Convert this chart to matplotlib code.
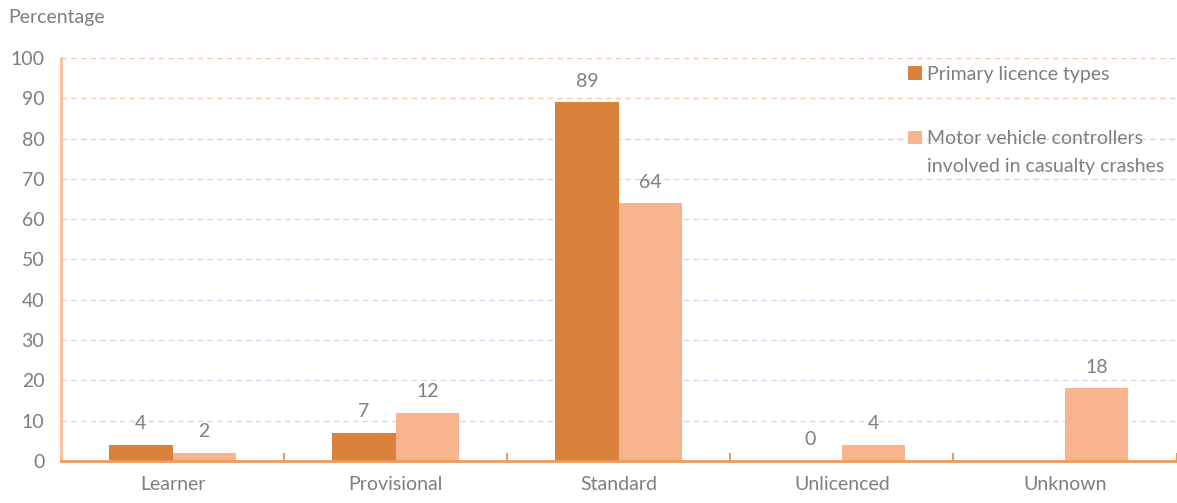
import numpy as np
import matplotlib.pyplot as plt
from matplotlib.colors import to_rgb
from matplotlib.patches import Patch

# Données
categories = ['Learner', 'Provisional', 'Standard', 'Unlicenced', 'Unknown']
primary = [4, 7, 89, 0, np.nan]
controllers = [2, 12, 64, 4, 18]
yticks = [0, 10, 20, 30, 40, 50, 60, 70, 80, 90, 100]

dark = '#DA823C'
light = '#F8B48E'
grey = '#7F7F7F'
fs = 14

plt.rcParams['font.family'] = ['Lato', 'DejaVu Sans']

fig = plt.figure(figsize=(11.77, 5.03), dpi=100)
ax = fig.add_axes([0.0518, 0.0835, 0.9478, 0.8012])

x = np.arange(len(categories))
w = 0.284
b1 = ax.bar(x - w / 2, primary, w, color=dark, zorder=3)
b2 = ax.bar(x + w / 2, controllers, w, color=light, zorder=3)
ax.bar_label(b1, labels=['' if np.isnan(v) else '%d' % v for v in primary],
             padding=9, color=grey, fontsize=fs)
ax.bar_label(b2, labels=['%d' % v for v in controllers], padding=9, color=grey, fontsize=fs)

#Grille en dégradé (pêche en haut, bleu en bas)
top = np.array(to_rgb('#F6C9AE'))
bot = np.array(to_rgb('#CFDAF2'))
for t in yticks[1:]:
    f = np.clip((t - 40) / 60, 0, 1)
    ax.axhline(t, color=tuple(bot + (top - bot) * f), lw=1, ls=(0, (4, 3)), zorder=1)

ax.set_xlim(-0.5, len(categories) - 0.5)
ax.set_ylim(0, 100)
ax.set_yticks(yticks)
ax.set_xticks(x)
ax.set_xticklabels(categories)
ax.set_xticks(np.arange(len(categories) + 1) - 0.5, minor=True)
ax.tick_params(axis='x', which='major', length=0, pad=11, labelsize=fs, labelcolor=grey)
ax.tick_params(axis='x', which='minor', length=6, width=1.5, direction='in', color='#F29A55')
ax.tick_params(axis='y', length=0, pad=12, labelsize=fs, labelcolor=grey)

for s in ['top', 'right']:
    ax.spines[s].set_visible(False)
ax.spines['bottom'].set_color('#F29A55')
ax.spines['bottom'].set_linewidth(2)
ax.spines['bottom'].set_zorder(4)
ax.spines['left'].set_color('#FBC196')
ax.spines['left'].set_linewidth(2)

fig.text(8 / 1177, 1 - 18 / 503, 'Percentage', color=grey, fontsize=fs, va='center', ha='left')

#Légende en deux blocs
opts = dict(loc='upper left', frameon=False, fontsize=fs, labelcolor=grey,
            handlelength=0.7, handleheight=0.7, handletextpad=0.3, borderpad=0)
leg1 = ax.legend([b1], ['Primary licence types'], bbox_to_anchor=(0.7505, 1.005), **opts)
ax.add_artist(leg1)
blank = Patch(facecolor='none', edgecolor='none')
ax.legend([b2, blank], ['Motor vehicle controllers', 'involved in casualty crashes'],
          bbox_to_anchor=(0.7505, 0.845), labelspacing=0.55, **opts)

fig.savefig('out.png', dpi=100)
